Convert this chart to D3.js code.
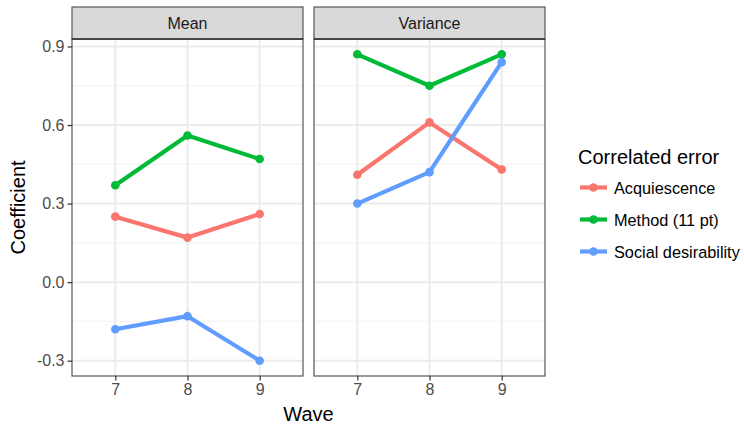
<!DOCTYPE html>
<html>
<head>
<meta charset="utf-8">
<script src="https://d3js.org/d3.v7.min.js"></script>
<style>
  body { margin: 0; background: #fff; }
  text { font-family: "Liberation Sans", Arial, sans-serif; }
</style>
</head>
<body>
<div id="canvas"></div>
<script>
// data
var waves = [7, 8, 9];
var panels = ["Mean", "Variance"];
var errors = ["Acquiescence", "Method (11 pt)", "Social desirability"];
var colors = ["#F8766D", "#00BA38", "#619CFF"];
var yTicks = [-0.3, 0.0, 0.3, 0.6, 0.9];
var yMinor = [-0.15, 0.15, 0.45, 0.75];

var meanAcq = [0.25, 0.17, 0.26];
var meanMethod = [0.37, 0.56, 0.47];
var meanSocial = [-0.18, -0.13, -0.30];
var varAcq = [0.41, 0.61, 0.43];
var varMethod = [0.87, 0.75, 0.87];
var varSocial = [0.30, 0.42, 0.84];

var series = {
  "Mean": [meanAcq, meanMethod, meanSocial],
  "Variance": [varAcq, varMethod, varSocial]
};

var winWidth = 744, winHeight = 426;

var svg = d3.select("#canvas").append("svg")
  .attr("width", winWidth)
  .attr("height", winHeight);

const margin = { top: 39, bottom: 376 },
  stripTop = 7,
  panelX = [72, 314],
  panelW = 231;

var y = d3.scaleLinear()
  .domain([-0.3585, 0.9285])
  .range([margin.bottom, margin.top]);

var line = d3.line()
  .x(function(d) { return d.x; })
  .y(function(d) { return y(d.v); });

// ggplot prints a plain hyphen for negatives
var fmtY = function(d) { return d3.format(".1f")(d).replace("\u2212", "-"); };

panels.forEach(function(p, pi) {
  var x0 = panelX[pi];
  var x = d3.scaleLinear()
    .domain([6.4, 9.6])
    .range([x0, x0 + panelW]);

  var g = svg.append("g").attr("class", "panel");

  g.append("rect")
    .attr("x", x0).attr("y", margin.top)
    .attr("width", panelW).attr("height", margin.bottom - margin.top)
    .attr("fill", "#fff");

  // minor grid
  g.selectAll(".minor").data(yMinor).enter().append("line")
    .attr("x1", x0).attr("x2", x0 + panelW)
    .attr("y1", function(d) { return y(d); })
    .attr("y2", function(d) { return y(d); })
    .attr("stroke", "#F4F4F4").attr("stroke-width", 1.2);

  // major grid
  g.selectAll(".majorY").data(yTicks).enter().append("line")
    .attr("x1", x0).attr("x2", x0 + panelW)
    .attr("y1", function(d) { return y(d); })
    .attr("y2", function(d) { return y(d); })
    .attr("stroke", "#EBEBEB").attr("stroke-width", 2);
  g.selectAll(".majorX").data(waves).enter().append("line")
    .attr("y1", margin.top).attr("y2", margin.bottom)
    .attr("x1", function(d) { return x(d); })
    .attr("x2", function(d) { return x(d); })
    .attr("stroke", "#EBEBEB").attr("stroke-width", 2);

  // lines + points
  series[p].forEach(function(vals, si) {
    var pts = waves.map(function(w, i) { return { x: x(w), v: vals[i] }; });
    g.append("path")
      .datum(pts)
      .attr("d", line)
      .attr("fill", "none")
      .attr("stroke", colors[si])
      .attr("stroke-width", 4.2)
      .attr("stroke-linejoin", "round");
    g.selectAll(".pt" + si).data(pts).enter().append("circle")
      .attr("cx", function(d) { return d.x; })
      .attr("cy", function(d) { return y(d.v); })
      .attr("r", 4.3)
      .attr("fill", colors[si]);
  });

  // border
  g.append("rect")
    .attr("x", x0).attr("y", margin.top)
    .attr("width", panelW).attr("height", margin.bottom - margin.top)
    .attr("fill", "none").attr("stroke", "#555").attr("stroke-width", 1.2);

  // strip
  g.append("rect")
    .attr("x", x0).attr("y", stripTop)
    .attr("width", panelW).attr("height", margin.top - stripTop)
    .attr("fill", "#D9D9D9").attr("stroke", "#555").attr("stroke-width", 1.2);
  g.append("line")
    .attr("x1", x0).attr("x2", x0 + panelW)
    .attr("y1", margin.top).attr("y2", margin.top)
    .attr("stroke", "#333").attr("stroke-width", 1.5);
  g.append("text")
    .attr("x", x0 + panelW / 2).attr("y", (stripTop + margin.top) / 2 + 6)
    .attr("text-anchor", "middle")
    .style("font-size", "16px").attr("fill", "#1A1A1A")
    .text(p);

  // x axis
  var xAxis = d3.axisBottom(x).tickValues(waves).tickSize(4.5).tickPadding(3)
    .tickFormat(d3.format("d"));
  var gX = svg.append("g")
    .attr("transform", "translate(0," + margin.bottom + ")")
    .call(xAxis);
  gX.select(".domain").remove();
  gX.selectAll(".tick line").attr("stroke", "#333").attr("stroke-width", 1.2);
  gX.selectAll(".tick text").attr("fill", "#4D4D4D")
    .style("font-size", "16px")
    .style("font-family", "Liberation Sans, Arial, sans-serif");
});

// y axis
var yAxis = d3.axisLeft(y).tickValues(yTicks).tickSize(4.5).tickPadding(3)
  .tickFormat(fmtY);
var gY = svg.append("g")
  .attr("transform", "translate(" + panelX[0] + ",0)")
  .call(yAxis);
gY.select(".domain").remove();
gY.selectAll(".tick line").attr("stroke", "#333").attr("stroke-width", 1.2);
gY.selectAll(".tick text").attr("fill", "#4D4D4D")
  .style("font-size", "16px")
  .style("font-family", "Liberation Sans, Arial, sans-serif");

// axis titles
svg.append("text")
  .attr("x", (panelX[0] + panelX[1] + panelW) / 2).attr("y", 421)
  .attr("text-anchor", "middle").style("font-size", "20px").attr("fill", "#000")
  .text("Wave");
svg.append("text")
  .attr("transform", "translate(25," + (margin.top + margin.bottom) / 2 + ") rotate(-90)")
  .attr("text-anchor", "middle").style("font-size", "20px").attr("fill", "#000")
  .text("Coefficient");

// legend
var legend = svg.append("g").attr("transform", "translate(578,0)");
legend.append("text")
  .attr("x", 0).attr("y", 164)
  .style("font-size", "20px").attr("fill", "#000")
  .text("Correlated error");
var rowY = d3.scalePoint().domain(errors).range([187.5, 251.5]);
errors.forEach(function(e, i) {
  var ry = rowY(e);
  legend.append("line")
    .attr("x1", 2).attr("x2", 29).attr("y1", ry).attr("y2", ry)
    .attr("stroke", colors[i]).attr("stroke-width", 4.2);
  legend.append("circle")
    .attr("cx", 15.5).attr("cy", ry).attr("r", 4.3).attr("fill", colors[i]);
  legend.append("text")
    .attr("x", 36).attr("y", ry + 6)
    .style("font-size", "16.3px").attr("fill", "#000")
    .text(e);
});
</script>
</body>
</html>
